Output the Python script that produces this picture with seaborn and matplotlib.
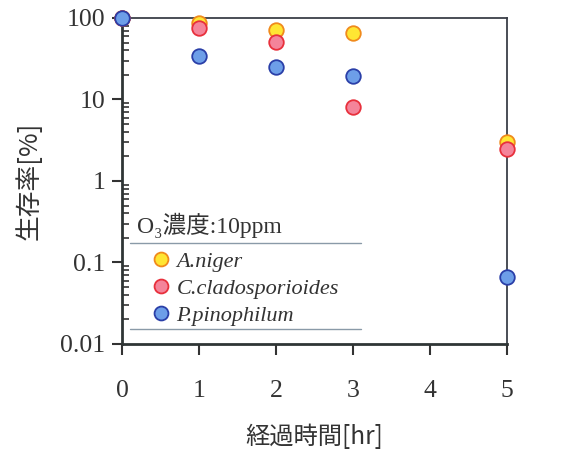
import matplotlib
matplotlib.use("Agg")
import matplotlib.pyplot as plt
import matplotlib.ticker as mticker
from matplotlib.lines import Line2D
import seaborn as sns
import pandas as pd

hours = [0, 1, 2, 3, 5]
species = ["A.niger", "C.cladosporioides", "P.pinophilum"]
a_niger = [100, 87, 71, 65, 3.0]
c_clado = [100, 76, 51, 8.0, 2.5]
p_pino = [100, 34.5, 25, 19.4, 0.066]
x_ticks = [0, 1, 2, 3, 4, 5]
y_ticks = [0.01, 0.1, 1, 10, 100]
y_tick_labels = ["0.01", "0.1", "1", "10", "100"]
x_label = "経過時間[hr]"
y_label = "生存率[%]"
legend_title = "O₃濃度:10ppm"

fills = ["#ffe633", "#f4849a", "#6d9ee8"]
edges = ["#f08a1c", "#e8303c", "#2a3fa8"]

sns.set_theme(style="white")
plt.rcParams["font.family"] = ["Liberation Serif", "Noto Sans CJK JP"]

df = pd.DataFrame({
    "hour": hours * 3,
    "value": a_niger + c_clado + p_pino,
    "species": [s for s in species for _ in hours],
})

fig = plt.figure(figsize=(5.7, 4.5), dpi=100)
ax = fig.add_axes([0.214, 0.2356, 0.675, 0.7244])

for sp, fc, ec in zip(species, fills, edges):
    sub = df[df["species"] == sp]
    sns.scatterplot(data=sub, x="hour", y="value", ax=ax, color=fc,
                    edgecolor=ec, linewidth=1.3, s=110, clip_on=False,
                    zorder=5, legend=False)

ax.set_yscale("log")
ax.set_xlim(0, 5)
ax.set_ylim(0.01, 100)
ax.set_xticks(x_ticks)
ax.set_xticklabels([str(t) for t in x_ticks])
ax.yaxis.set_major_locator(mticker.FixedLocator(y_ticks))
ax.yaxis.set_major_formatter(mticker.FixedFormatter(y_tick_labels))
ax.yaxis.set_minor_locator(mticker.LogLocator(base=10, subs=range(2, 10)))
ax.yaxis.set_minor_formatter(mticker.NullFormatter())

tc = "#333333"
ax.tick_params(axis="y", which="major", direction="out", length=7, width=1.5,
               color=tc, labelsize=18.5, labelcolor=tc, pad=5, left=True)
ax.tick_params(axis="y", which="minor", direction="in", length=5, width=1.2,
               color=tc, left=True)
ax.tick_params(axis="x", which="major", direction="out", length=8, width=1.5,
               color=tc, labelsize=18.5, labelcolor=tc, pad=18, bottom=True)

for side in ["left", "bottom"]:
    ax.spines[side].set_linewidth(2.0)
    ax.spines[side].set_color("#2f3535")
for side in ["top", "right"]:
    ax.spines[side].set_linewidth(1.3)
    ax.spines[side].set_color("#3a3f48")

cjk = ["Noto Sans CJK JP", "DejaVu Sans"]
ax.set_xlabel(x_label, family=cjk, fontsize=17.5, color=tc, labelpad=16)
ax.set_ylabel(y_label, family=cjk, fontsize=18.5, color=tc, labelpad=13)

# legend block
ax.text(0.04, 0.365, legend_title, transform=ax.transAxes, fontsize=17,
        color=tc, va="center", ha="left",
        family=["Liberation Serif", "Noto Sans CJK JP"])
for yy in [0.31, 0.046]:
    ax.add_line(Line2D([0.021, 0.62], [yy, yy], transform=ax.transAxes,
                       color="#8a9aa8", lw=1.0))
handles = [Line2D([], [], ls="", marker="o", markersize=10,
                  markerfacecolor=fc, markeredgecolor=ec, markeredgewidth=1.3)
           for fc, ec in zip(fills, edges)]
leg = ax.legend(handles, species, loc="upper left",
                bbox_to_anchor=(0.052, 0.305), frameon=False,
                prop={"family": "Liberation Serif", "style": "italic", "size": 16},
                handletextpad=0.15, labelspacing=0.3, handlelength=1.1,
                borderaxespad=0.0, borderpad=0.3)
for t in leg.get_texts():
    t.set_color(tc)

fig.savefig("out.png", dpi=100, facecolor="white")
